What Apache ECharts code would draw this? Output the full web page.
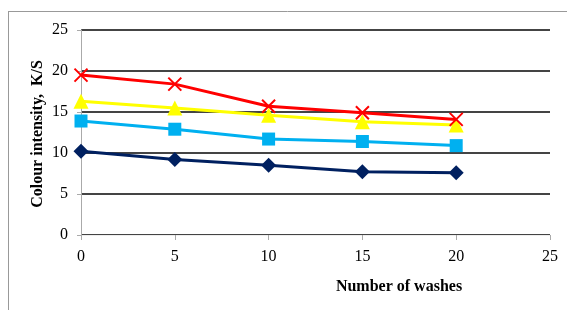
<!DOCTYPE html>
<html><head><meta charset="utf-8">
<script src="https://cdn.jsdelivr.net/npm/echarts@6/dist/echarts.min.js"></script>
<style>html,body{margin:0;padding:0;background:#fff}#c{width:567px;height:310px}</style>
</head><body><div id="c"></div>
<script>
const washes = [0, 5, 10, 15, 20];
const seriesRed = [19.5, 18.4, 15.7, 14.9, 14.1];
const seriesYellow = [16.3, 15.5, 14.6, 13.8, 13.4];
const seriesBlue = [13.9, 12.9, 11.7, 11.4, 10.9];
const seriesNavy = [10.2, 9.2, 8.5, 7.7, 7.6];
const xTicks = [0, 5, 10, 15, 20, 25];
const yTicks = [0, 5, 10, 15, 20, 25];
const xTitle = 'Number of washes';
const yTitle = 'Colour intensity,  K/S';

const font = '"Liberation Serif", "Times New Roman", serif';
function mk(vals){ return washes.map((w,i)=>[w, vals[i]]); }
const xPath = 'path://M0,0L10,10M10,0L0,10';
const chart = echarts.init(document.getElementById('c'));
chart.setOption({
  animation: false,
  graphic: [
    {type:'line', shape:{x1:8.5,y1:11,x2:8.5,y2:310}, style:{stroke:'#999',lineWidth:1}},
    {type:'line', shape:{x1:8,y1:11.5,x2:567,y2:11.5}, style:{stroke:'#999',lineWidth:1}},
    {type:'text', x:399, y:287, style:{text:xTitle, font:'bold 16px '+font, fill:'#000', align:'center', verticalAlign:'middle'}},
    {type:'text', x:38, y:134, rotation:Math.PI/2, style:{text:yTitle, font:'bold 16px '+font, fill:'#000', align:'center', verticalAlign:'middle'}}
  ],
  grid: {left: 81, right: 17, top: 30, bottom: 75},
  xAxis: {
    type: 'value', min: 0, max: 25, interval: 5,
    axisLine: {show: true, lineStyle: {color: '#eee', width: 1}},
    axisTick: {show: true, length: 5, lineStyle: {color: '#aaa'}},
    axisLabel: {fontFamily: font, fontSize: 16, color: '#000', margin: 14,
      formatter: v => xTicks.includes(v) ? String(v) : ''},
    splitLine: {show: false}
  },
  yAxis: {
    type: 'value', min: 0, max: 25, interval: 5,
    axisLine: {show: true, lineStyle: {color: '#aaa', width: 1}},
    axisTick: {show: true, length: 4, lineStyle: {color: '#aaa'}},
    axisLabel: {fontFamily: font, fontSize: 16, color: '#000', margin: 13,
      formatter: v => yTicks.includes(v) ? String(v) : ''},
    splitLine: {show: true, lineStyle: {color: '#444', width: 2}}
  },
  series: [
    {type:'line', data: mk(seriesNavy), symbol:'diamond', symbolSize:15,
      lineStyle:{color:'#002060', width:3}, itemStyle:{color:'#002060'}},
    {type:'line', data: mk(seriesBlue), symbol:'rect', symbolSize:13,
      lineStyle:{color:'#00B0F0', width:3}, itemStyle:{color:'#00B0F0'}},
    {type:'line', data: mk(seriesYellow), symbol:'triangle', symbolSize:15,
      lineStyle:{color:'#FFFF00', width:3}, itemStyle:{color:'#FFFF00'}},
    {type:'line', data: mk(seriesRed), symbol: xPath, symbolSize:13,
      lineStyle:{color:'#FF0000', width:3}, itemStyle:{color:'none', borderColor:'#FF0000', borderWidth:2}}
  ]
});
</script></body></html>
